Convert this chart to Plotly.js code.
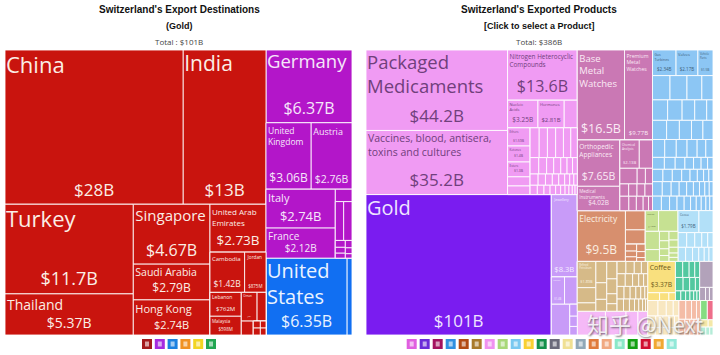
<!DOCTYPE html>
<html><head><meta charset="utf-8">
<script src="https://cdn.plot.ly/plotly-3.0.1.min.js"></script>
<style>html,body{margin:0;padding:0;background:#fff}#c{width:720px;height:355px}</style>
</head><body><div id="c"></div>
<script>
// ---------- destinations (named tiles) ----------
const destNames = ['China','India','Turkey','Thailand','Singapore','Saudi Arabia','Hong Kong','United Arab<br>Emirates','Cambodia','Jordan','Lebanon','Malaysia','Germany','United<br>Kingdom','Austria','Italy','France','United<br>States','Oman'];
const destAmounts = ['$28B','$13B','$11.7B','$5.37B','$4.67B','$2.79B','$2.74B','$2.73B','$1.42B','$875M','$762M','$598M','$6.37B','$3.06B','$2.76B','$2.74B','$2.12B','$6.35B','$460M'];
const destValues = [28,13,11.7,5.37,4.67,2.79,2.74,2.73,1.42,0.875,0.762,0.598,6.37,3.06,2.76,2.74,2.12,6.35,0.46];
// grouping of the tiles (a plain number is an unlabelled small tile)
const destRedTop = ['China','India'];
const destRedCol1 = ['Turkey','Thailand'];
const destRedCol2 = ['Singapore','Saudi Arabia','Hong Kong'];
const destRedSmall = [['Lebanon','Malaysia'],[['Oman',0.26],[0.17,[[0.05,0.04],[0.05,0.04]]]]];
const destRedCol3 = ['United Arab<br>Emirates',['Cambodia','Jordan'],destRedSmall];
const destPurpleRight = [0.21,[0.33,0.33],[[0.07,0.06,0.05],[0.05,0.04,0.03]]];
const destPurpleMid = ['United<br>Kingdom','Austria'];
const destPurpleLow = [['Italy','France'],destPurpleRight];
const destBlue = ['United<br>States',0.38];

// ---------- products (named tiles) ----------
const prodNames = ['Packaged<br>Medicaments','Vaccines, blood, antisera,<br>toxins and cultures','Nitrogen Heterocyclic<br>Compounds','Nucleic<br>Acids','Hormones','Gold','Jewellery','Base<br>Metal<br>Watches','Premium<br>Metal<br>Watches','Orthopedic<br>Appliances','Medical<br>Instruments','Chemical<br>Analysis','Electricity','Coffee','Gas<br>Turbines','Valves','Vehicle<br>Parts','Ethers','Ketones','Esters','Refined<br>Petroleum','Fabrics','Cocoa','Paintings'];
const prodAmounts = ['$44.2B','$35.2B','$13.6B','$3.25B','$2.81B','$101B','$8.3B','$16.5B','$9.77B','$7.65B','$4.02B','$2.13B','$9.5B','$3.37B','$2.34B','$2.17B','$1.5B','$1.59B','$1.4B','$1.3B','$1.89B','$1.07B','$1.79B','$1.4B'];
const prodValues = [44.2,35.2,13.6,3.25,2.81,101,8.3,16.5,9.77,7.65,4.02,2.13,9.5,3.37,2.34,2.17,1.5,1.59,1.4,1.3,1.89,1.07,1.79,1.4];
// pharma block
const pharmaCol1 = ['Ethers','Ketones','Esters',0.8,0.75];
const pharmaRows = [[1.05,0.95,0.95,0.9,0.85,0.75],[0.55,0.5,0.45,0.45,0.4,0.35,0.3],[0.35,0.32,0.3,0.28,0.26,0.22,0.18,0.15],[0.26,0.24,0.22,0.2,0.18,0.16,0.14,0.12,0.1,0.08]];
const pharmaRight = ['Nitrogen Heterocyclic<br>Compounds',['Nucleic<br>Acids','Hormones',1.4],[pharmaCol1,pharmaRows]];
const pharma = [['Packaged<br>Medicaments','Vaccines, blood, antisera,<br>toxins and cultures'],pharmaRight];
// precious block
const preciousCol = ['Jewellery',['Paintings',1.35],[2.2,[0.35,0.3,0.25]]];
// watches and instruments block
const watchesRight = [['Chemical<br>Analysis',1.45],[1.05,0.5,0.43],[0.42,0.4,0.38,0.36],[0.5,0.42,0.38,0.3,0.22]];
const watches = [['Base<br>Metal<br>Watches','Premium<br>Metal<br>Watches'],[['Orthopedic<br>Appliances','Medical<br>Instruments'],watchesRight]];
// machinery block
const machinery = [['Gas<br>Turbines','Valves','Vehicle<br>Parts'],[1.65,1.6,1.4,1.05],[1.2,1.15,1.0,0.95,0.5],[1.05,0.95,0.9,0.85,0.75],[0.85,0.8,0.75,0.7,0.6,0.5],[0.55,0.5,0.45,0.4,0.35,0.3,0.25],[0.5,0.45,0.45,0.4,0.35,0.3,0.25,0.2],[0.55,0.5,0.45,0.42,0.38,0.34,0.3,0.25,0.21],[0.5,0.46,0.42,0.4,0.36,0.32,0.28,0.26,0.22,0.18]];
// energy block
const energyCol = [1.48,1.1,[[0.3,0.25,0.2],[0.25,0.2,0.13]]];
// food and others
const greenBlock = [['Fabrics',1.56],[[1.0,0.65],[0.35,0.3,0.25,0.22],[0.3,0.25,0.2,0.15,0.14]]];
const skyBlock = [['Cocoa',1.2],[0.5,0.46,0.4,0.34,0.3],[0.42,0.38,0.34,0.3,0.26,0.22]];
const tanCols = [['Refined<br>Petroleum',1.1,0.6],[0.9,0.7,0.5],[0.7,0.6,0.4,0.3],[[0.42,0.4,0.34,0.3],[0.4,0.36,0.3,0.24,0.2],[0.34,0.3,0.28,0.24,0.2,0.14],[0.3,0.28,0.24,0.2,0.18,0.14,0.1]]];
const pinkRow = [2.6,1.9,1.1,0.9];
const coffeeBlock = ['Coffee',[0.36,0.28,0.2]];
const tealBlock = [[0.45,0.4,0.35,0.3],[0.4,0.34,0.3,0.22],[0.2,0.18,0.16,0.14,0.12,0.1]];
const greyBlock = [1.35,[0.3,0.2,0.18]];
const creamBlock = [[0.62,0.5,0.42,0.34],[0.36,0.32,0.28,0.24,0.2],[0.22,0.2,0.18,0.16,0.14]];
const salmonBlock = [[0.5,0.42,0.36,0.3],[0.36,0.3,0.26,0.22,0.18]];
const greenSmall = [0.5];
const redSmall = [0.42];
const paleSmall = [0.22,0.14];
const tealSmall = [0.16,0.12,0.1];

// ---------- text ----------
const titlesLeft = ["Switzerland's Export Destinations","(Gold)","Total : $101B"];
const titlesRight = ["Switzerland's Exported Products","[Click to select a Product]","Total: $386B"];
const watermark = '知乎 @Next';

// ---------- styles ----------
const destLabelSize = {'China':22,'India':21,'Turkey':22,'Thailand':14,'Singapore':15,'Saudi Arabia':10.5,'Hong Kong':11,'United Arab<br>Emirates':8,'Cambodia':6.3,'Jordan':5,'Lebanon':5,'Malaysia':4.5,'Germany':19,'United<br>Kingdom':8.5,'Austria':9,'Italy':11,'France':10,'United<br>States':20,'Oman':3};
const destAmountSize = {'China':17,'India':17,'Turkey':18,'Thailand':14,'Singapore':16,'Saudi Arabia':12,'Hong Kong':11,'United Arab<br>Emirates':13.5,'Cambodia':8.5,'Jordan':4.5,'Lebanon':6,'Malaysia':4.5,'Germany':16,'United<br>Kingdom':12,'Austria':10.5,'Italy':13,'France':10,'United<br>States':16,'Oman':0};
const prodLabelSize = {'Packaged<br>Medicaments':18.5,'Vaccines, blood, antisera,<br>toxins and cultures':10.5,'Nitrogen Heterocyclic<br>Compounds':6.5,'Nucleic<br>Acids':4,'Hormones':4,'Gold':20,'Jewellery':3.5,'Base<br>Metal<br>Watches':9.5,'Premium<br>Metal<br>Watches':5.5,'Orthopedic<br>Appliances':6.5,'Medical<br>Instruments':4.5,'Chemical<br>Analysis':3.5,'Electricity':8.5,'Coffee':7,'Gas<br>Turbines':3.5,'Valves':4,'Vehicle<br>Parts':3.5,'Ethers':3,'Ketones':3,'Esters':3,'Refined<br>Petroleum':3,'Fabrics':3,'Cocoa':3,'Paintings':3};
const prodAmountSize = {'Packaged<br>Medicaments':17,'Vaccines, blood, antisera,<br>toxins and cultures':17,'Nitrogen Heterocyclic<br>Compounds':16,'Nucleic<br>Acids':6.5,'Hormones':6,'Gold':17,'Jewellery':8,'Base<br>Metal<br>Watches':12.5,'Premium<br>Metal<br>Watches':6,'Orthopedic<br>Appliances':10.5,'Medical<br>Instruments':6.5,'Chemical<br>Analysis':4.5,'Electricity':12,'Coffee':7,'Gas<br>Turbines':4.5,'Valves':4.5,'Vehicle<br>Parts':3.5,'Ethers':3.5,'Ketones':3.5,'Esters':3.5,'Refined<br>Petroleum':4,'Fabrics':4,'Cocoa':4.5,'Paintings':4};
const legendLeft = ['#a31a1c','#a52be0','#1a80e0','#f09222','#f2d522','#22a652'];
const legendRight = ['#e05fe0','#6a2bd8','#a3125e','#3090e0','#b24a12','#a87a2a','#f092f0','#a8d878','#78c8f0','#f8d032','#12904a','#6a6a7a','#f0e092','#90a8b8','#e07a3a','#f0a880','#8ae8c8','#12a012','#d01030','#f0a832','#92e8d8'];

const paint = (color, ink, tree) => ({color, ink, tree});
const PURPLE='#b316c9', PURPLE_INK='#f6e6fa';
const destTree = [
  paint('#c9140e','#fbeee6',[destRedTop,[destRedCol1,destRedCol2,destRedCol3]]),
  [paint(PURPLE,PURPLE_INK,'Germany'), paint(PURPLE,PURPLE_INK,destPurpleMid), paint(PURPLE,PURPLE_INK,destPurpleLow), paint('#116ff2','#eaf3ff',destBlue)]
];
const prodTree = [
  [paint('#f09bf3','#70407c',pharma),
   [paint('#7a1cf0','#efe4ff','Gold'), paint('#c89bf8','#f4ecff',preciousCol)]],
  [[paint('#ca78b4','#fbeaf5',watches), paint('#8cc6f4','#40607a',machinery)],
   [paint('#d78f6e','#fbeee0','Electricity'), paint('#d78f6e','#fbeee0',energyCol), paint('#c6e192','#566a38',greenBlock), paint('#b2e0f8','#3f6078',skyBlock)],
   [[paint('#d6ba88','#fbf2e0',tanCols), paint('#f5b9f7','#7a4a80',pinkRow)],
    [[paint('#f9e07e','#6b5a1c',coffeeBlock), paint('#52c8a0','#eafff6',tealBlock), paint('#b2a2ba','#f4f0f6',greyBlock)],
     [paint('#f8e7c0','#7a6a48',creamBlock), paint('#f4bca6','#7a5040',salmonBlock),
      [[paint('#86dc82','#2f6a2c',greenSmall), paint('#ee6e8a','#fff',redSmall)], paint('#f4e8a8','#6a5a20',paleSmall), paint('#b4ecd8','#3a6a5a',tealSmall)]]]]]
];

// flatten a nested tree to the parallel arrays Plotly's treemap wants
function flatten(tree, names, amounts, values, labelSize, amountSize) {
  const o = {ids:[],parents:[],values:[],labels:[],amounts:[],colors:[],inks:[],ls:[],as:[]};
  let n = 0;
  const add = (id,p,v,l,a,c,ink,ls,as) => {o.ids.push(id);o.parents.push(p);o.values.push(v);o.labels.push(l);o.amounts.push(a);o.colors.push(c);o.inks.push(ink);o.ls.push(ls);o.as.push(as);};
  const walk = (node,parent,color,ink) => {
    if (node && node.tree !== undefined) { walk(node.tree,parent,node.color,node.ink); return; }
    const id = 'n'+(n++);
    if (Array.isArray(node)) {
      add(id,parent,0,'','',color,ink,6,6);
      node.forEach(k=>walk(k,id,color,ink));
    } else if (typeof node === 'number') {
      add(id,parent,node,'','',color,ink,6,6);
    } else {
      const i = names.indexOf(node);
      add(id,parent,values[i],node,amounts[i],color,ink,labelSize[node],amountSize[node]||1);
    }
  };
  walk(tree,'','#ffffff','#ffffff');
  return o;
}

const W=720,H=355;
const domainAt=(x0,dx,dy)=>({x:[(x0+dx)/W,(x0+347+dx)/W],y:[1-(335+dy)/H,1-(50+dy)/H]});
// label tiers: bigger type sits closer to the tile corner [minSize,maxSize,dx,dy]
const labelTiers=[[18,99,-2,-4],[10,18,-1,-2],[0,10,-1,-1]];
function layers(f, x0) {
  const common = {type:'treemap',ids:f.ids,labels:f.ids,parents:f.parents,values:f.values,branchvalues:'remainder',sort:false,
    pathbar:{visible:false},tiling:{packing:'slice-dice',pad:0},hoverinfo:'none',textinfo:'text',leaf:{opacity:1}};
  const clear = {colors:f.colors.map(()=> 'rgba(0,0,0,0)'),depthfade:false,line:{width:0},pad:{t:0,l:0,r:0,b:0}};
  const out=[Object.assign({},common,{domain:domainAt(x0,0,0),text:f.ids.map(()=>''),
      marker:{colors:f.colors,depthfade:false,line:{color:'rgba(255,255,255,0.85)',width:1},pad:{t:0,l:0,r:0,b:0}}})];
  labelTiers.forEach(([a,b,dx,dy])=>out.push(Object.assign({},common,{domain:domainAt(x0,dx,dy),
      text:f.labels.map((t,i)=>f.ls[i]>=a&&f.ls[i]<b?t:''),textposition:'top left',
      textfont:{family:'Open Sans',size:f.ls,color:f.inks},marker:clear})));
  out.push(Object.assign({},common,{domain:domainAt(x0,0,-0.5),text:f.amounts,textposition:'bottom center',
      textfont:{family:'Open Sans',size:f.as,color:f.inks},marker:clear}));
  return out;
}

const data=[...layers(flatten(destTree,destNames,destAmounts,destValues,destLabelSize,destAmountSize),5),
            ...layers(flatten(prodTree,prodNames,prodAmounts,prodValues,prodLabelSize,prodAmountSize),366)];

const annotations=[];
const titleLine=(t,cx,py,size,bold,color)=>annotations.push({text:bold?'<b>'+t+'</b>':t,xref:'paper',yref:'paper',x:cx/W,y:1-py/H,xanchor:'center',yanchor:'middle',showarrow:false,font:{family:bold?'Liberation Sans':'Open Sans',size,color}});
[[titlesLeft,179],[titlesRight,539]].forEach(([t,cx])=>{
  titleLine(t[0],cx,10,10,true,'#111');
  titleLine(t[1],cx,26,9,true,'#111');
  titleLine(t[2],cx,42,8,false,'#444');
});
annotations.push({text:watermark,xref:'paper',yref:'paper',x:645/W,y:1-323/H,xanchor:'center',yanchor:'middle',showarrow:false,
  font:{family:'Noto Sans CJK SC',size:22,color:'rgba(255,255,255,0.85)',shadow:'1px 1px 2px rgba(70,70,70,0.9)'}});

const shapes=[];
const legend=(cols,x0,pitch)=>cols.forEach((c,i)=>{
  const x=x0+i*pitch;
  shapes.push({type:'rect',xref:'paper',yref:'paper',x0:x/W,x1:(x+10)/W,y0:1-349/H,y1:1-339/H,fillcolor:c,line:{color:'rgba(255,255,255,0)',width:0}});
  shapes.push({type:'rect',xref:'paper',yref:'paper',x0:(x+3)/W,x1:(x+7)/W,y0:1-346.5/H,y1:1-341.5/H,fillcolor:'rgba(255,255,255,0.6)',line:{width:0}});
});
legend(legendLeft,142,12.8);
legend(legendRight,406.7,13);

Plotly.newPlot('c',data,{width:W,height:H,margin:{l:0,r:0,t:0,b:0},paper_bgcolor:'#fff',showlegend:false,annotations,shapes},{displayModeBar:false,staticPlot:true});
</script></body></html>
